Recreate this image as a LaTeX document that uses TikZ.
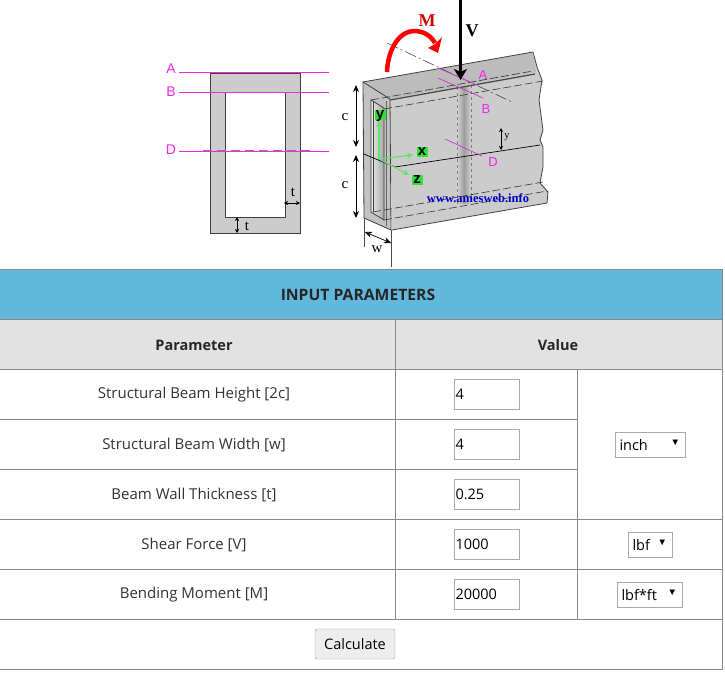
\documentclass[tikz,border=0pt]{standalone}
\usepackage{xcolor}
\usepackage{tikz}
\usepackage{fontspec}
\setmainfont{Open Sans}
\newfontfamily\labelfont{Liberation Sans}
\newfontfamily\beamfont{Liberation Serif}
\usetikzlibrary{arrows.meta, positioning, calc}
\definecolor{bandColor}{RGB}{98, 184, 218}
\definecolor{headColor}{RGB}{226, 226, 226}
\definecolor{gridColor}{RGB}{136, 136, 136}
\definecolor{boxColor}{RGB}{169, 169, 169}
\definecolor{beamColor}{RGB}{204, 204, 204}
\definecolor{secColor}{RGB}{238, 40, 230}
\definecolor{cutColor}{RGB}{200, 70, 200}
\definecolor{axisColor}{RGB}{100, 225, 110}
\definecolor{tagColor}{RGB}{50, 225, 60}

\begin{document}
\begin{tikzpicture}[
    x=1pt, y=-1pt,
    inputbox/.style={
        rectangle,
        draw=boxColor,
        fill=white,
        minimum width=64.5pt,
        minimum height=29.5pt,
        inner sep=1pt,
        text width=62pt,
        font=\fontsize{14.5}{16}\selectfont
    },
    unitbox/.style={
        rectangle,
        draw=boxColor,
        fill=white,
        minimum height=25pt,
        inner sep=0pt,
        font=\fontsize{14.5}{16}\selectfont
    },
    rowlabel/.style={font=\fontsize{15}{17}\selectfont, text=black!80},
    headlabel/.style={font=\fontsize{14.5}{16}\selectfont\bfseries, text=black!85},
    seclabel/.style={font=\labelfont\fontsize{14}{16}\selectfont, text=secColor, inner sep=0pt},
    dimlabel/.style={font=\beamfont\fontsize{15}{16}\selectfont, inner sep=0pt},
    axislabel/.style={font=\labelfont\fontsize{15}{15}\selectfont\bfseries, fill=tagColor, inner sep=0pt, minimum width=11pt, minimum height=10pt, text height=7pt, text depth=1pt},
    dimarrow/.style={{Stealth[length=7pt,width=6pt]}-{Stealth[length=7pt,width=6pt]}, line width=0.9pt},
    edgeline/.style={black!75, line width=0.8pt},
    dashline/.style={black!80, dash pattern=on 8pt off 3pt, line width=0.6pt}
]
    \useasboundingbox (0,0) rectangle (725,675);

    % Cross section
    \fill[beamColor] (210,73) rectangle (300,233);
    \fill[white] (225,92) rectangle (285,217);
    \draw[edgeline] (210,73) rectangle (300,233);
    \draw[edgeline] (225,92) rectangle (285,217);
    \draw[secColor, line width=0.7pt] (179,72.5) -- (329,72.5);
    \draw[secColor, line width=0.7pt] (179,92) -- (329,92);
    \draw[secColor, line width=0.7pt] (179,151) -- (329,151);
    \draw[cutColor!80!gray, line width=2pt, dash pattern=on 9pt off 5pt] (203,151) -- (311,151);
    \node[seclabel] (labA) at (171,69) {A};
    \node[seclabel] (labB) at (171,91.5) {B};
    \node[seclabel] (labD) at (171,150) {D};
    \draw[{Stealth[length=4pt,width=4pt]}-{Stealth[length=4pt,width=4pt]}, line width=0.6pt] (284,203) -- (300,203);
    \draw[{Stealth[length=4pt,width=4pt]}-{Stealth[length=4pt,width=4pt]}, line width=0.8pt] (237,217) -- (237,233);
    \node[dimlabel] (labT) at (293,192) {t};
    \node[dimlabel] (labS) at (247,226) {t};

    % Beam faces
    \fill[beamColor] (390,98) -- (533,52) -- (537,67) -- (542,80) -- (539,100) -- (543,130)
        -- (540,140) -- (543,147) -- (543,167) -- (540,183) -- (548,192) -- (547,203) -- (392,230) -- cycle;
    \draw[edgeline] (533,52) -- (537,67) -- (542,80) -- (539,100) -- (543,130)
        -- (540,140) -- (543,147) -- (543,167) -- (540,183) -- (548,192) -- (547,203) -- (392,230);
    \fill[beamColor!92!black] (363,82) -- (533,52) -- (536,72) -- (390,99) -- cycle;
    \draw[edgeline] (363,82) -- (533,52);

    % Weld band
    \shade[left color=beamColor!90!white, right color=beamColor!90!white, middle color=black!38] (457,87) rectangle (471,203);
    \draw[gray, dashed, line width=0.6pt] (457,87) -- (457,204);
    \draw[gray, dashed, line width=0.6pt] (471,85) -- (471,202);

    % End of the tube
    \fill[beamColor!95!black] (363,82) -- (390,99) -- (391,230) -- (364,218) -- cycle;
    \shade[left color=black!8, right color=black!35] (371,100) -- (384,108) -- (384,220) -- (371,212) -- cycle;
    \draw[edgeline] (363,82) -- (390,99) -- (391,230) -- (364,218) -- cycle;
    \draw[edgeline] (371,100) -- (384,108) -- (384,220) -- (371,212) -- cycle;
    \draw[edgeline] (373,101) -- (373,212);
    \draw[black!60, line width=0.6pt] (386,101) -- (386,226);
    \draw[black!70, line width=1.3pt] (390,100) -- (535,74);
    \draw[dashline] (371,100) -- (533,71);
    \draw[dashline] (384,109) -- (543,81);
    \draw[dashline] (373,212) -- (543,182);
    \draw[dashline] (384,220) -- (547,191);
    \draw[black!80, dash pattern=on 12pt off 3pt on 2pt off 3pt, line width=0.5pt] (387,43) -- (512,102);

    % Neutral axis
    \draw[black, line width=0.7pt] (364,154) -- (395,167) -- (540,145);

    % Section marks
    \draw[cutColor, line width=0.8pt] (438,68) -- (477,85);
    \draw[cutColor, line width=0.8pt] (438,78) -- (483,98);
    \draw[cutColor, line width=0.8pt] (445,139) -- (482,156);
    \node[seclabel, font=\labelfont\fontsize{13}{14}\selectfont] (cutA) at (483,75) {A};
    \node[seclabel, font=\labelfont\fontsize{13}{14}\selectfont] (cutB) at (486,109) {B};
    \node[seclabel, font=\labelfont\fontsize{13}{14}\selectfont] (cutD) at (493,162) {D};

    % Loads
    \draw[black, line width=3.6pt, -{Stealth[length=11pt,width=13pt,inset=3pt]}] (460.5,0) -- (460.5,80);
    \draw[red, line width=4.5pt] (387,72) .. controls (388,48) and (400,31) .. (414,31) .. controls (424,31) and (431,36) .. (435,43);
    \fill[red] (442,37) -- (438,53) -- (428,48) -- (435,44) -- cycle;
    \node[font=\beamfont\fontsize{18}{18}\selectfont\bfseries, inner sep=0pt] (loadV) at (472,31) {V};
    \node[font=\beamfont\fontsize{18}{18}\selectfont\bfseries, text=red!85!black, inner sep=0pt] (loadM) at (427,21) {M};

    % Axes
    \draw[axisColor, line width=1.1pt, -{Stealth[length=6pt,width=6pt]}] (379,159) -- (379,121);
    \draw[axisColor, line width=1.1pt, -{Stealth[length=6pt,width=6pt]}] (379,159) -- (413,155);
    \draw[axisColor, line width=1.1pt, -{Stealth[length=6pt,width=6pt]}] (379,159) -- (409,175);
    \node[axislabel] (axisY) at (380,115) {y};
    \node[axislabel] (axisX) at (422,152) {x};
    \node[axislabel] (axisZ) at (417,180) {z};

    % Dimensions
    \draw[dimarrow] (356,85) -- (356,147);
    \draw[dimarrow] (356,155) -- (356,218);
    \node[dimlabel] (dimC) at (345,117) {c};
    \node[dimlabel] (dimD) at (345,185) {c};
    \draw[{Stealth[length=4pt,width=4pt]}-{Stealth[length=4pt,width=4pt]}, line width=0.6pt] (501,128) -- (501,150);
    \node[dimlabel, font=\beamfont\fontsize{10.5}{11}\selectfont] (dimY) at (507,137) {y};
    \draw[black!70, line width=0.5pt] (364,218) -- (364,247);
    \draw[black!70, line width=0.5pt] (391,230) -- (391,267);
    \draw[dimarrow, line width=0.7pt] (365,232) -- (391,243);
    \node[dimlabel] (dimW) at (377,249) {w};
    \node[font=\beamfont\fontsize{12.5}{13}\selectfont\bfseries, text=blue!80!black, inner sep=0pt] (mark) at (478,198) {www.amesweb.info};

    % Header bands
    \fill[bandColor] (0,269) rectangle (723,319);
    \fill[headColor] (0,320) rectangle (723,369);
    \node[headlabel, font=\fontsize{15.7}{17}\selectfont\bfseries] (title) at (358,295) {INPUT PARAMETERS};
    \node[headlabel] (parHead) at (194,345) {Parameter};
    \node[headlabel] (valHead) at (558,345) {Value};

    % Grid
    \foreach \y in {269,319.5,369.5,519.5,569.5,619.5,669.5} {
        \draw[gridColor] (0,\y) -- (722.5,\y);
    }
    \foreach \y in {419.5,469.5} {
        \draw[gridColor] (0,\y) -- (577.5,\y);
    }
    \draw[gridColor] (395.5,319.5) -- (395.5,619.5);
    \draw[gridColor] (577.5,369.5) -- (577.5,619.5);
    \draw[gridColor] (722.5,269) -- (722.5,669.5);

    % Rows
    \foreach \i/\y/\t/\v in {1/394/Structural Beam Height [2c]/4, 2/444/Structural Beam Width [w]/4,
        3/494/Beam Wall Thickness [t]/0.25, 4/544/Shear Force [V]/1000, 5/594/Bending Moment [M]/20000} {
        \node[rowlabel] (row\i) at (194,\y+1) {\t};
        \node[inputbox] (input\i) at (486.5,\y) {\v};
    }

    % Units
    \node[unitbox, minimum width=70pt] (unitA) at (650,444.5) {};
    \node[unitbox, minimum width=44pt] (unitB) at (650,544.5) {};
    \node[unitbox, minimum width=65pt] (unitC) at (649.5,594.5) {};
    \foreach \n/\t in {unitA/inch, unitB/lbf, unitC/lbf*ft} {
        \node[anchor=west, inner sep=0pt, font=\fontsize{14.5}{16}\selectfont] (\n text) at ($(\n.west)+(4.5,0.5)$) {\t};
        \node[inner sep=0pt, font=\labelfont\fontsize{9.5}{10}\selectfont] (\n mark) at ($(\n.east)-(10,2)$) {\char"25BC};
    }

    % Button
    \node[rectangle, draw=boxColor!90!black, fill=black!7, rounded corners=2pt, minimum width=80pt, minimum height=30pt,
        inner sep=0pt, font=\fontsize{14.5}{16}\selectfont] (calc) at (355,644) {Calculate};

\end{tikzpicture}
\end{document}
